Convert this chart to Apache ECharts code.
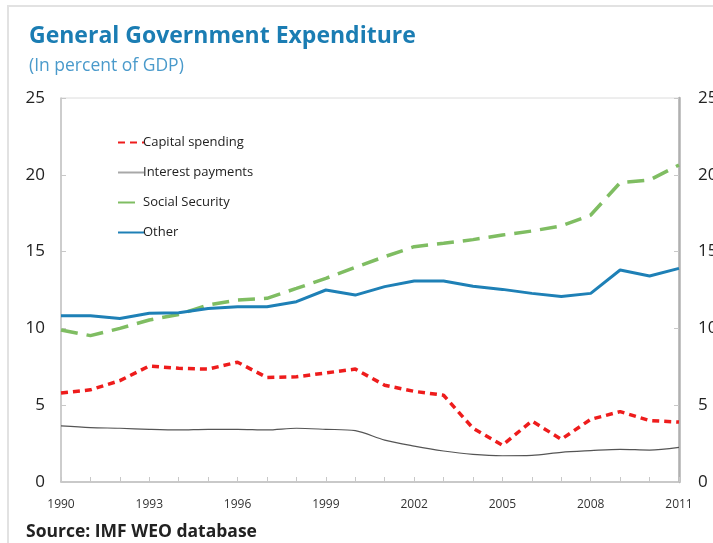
<!DOCTYPE html>
<html>
<head>
<meta charset="utf-8">
<title>General Government Expenditure</title>
<script src="https://cdn.jsdelivr.net/npm/echarts@6/dist/echarts.min.js"></script>
<style>
  html, body { margin: 0; padding: 0; background: #ffffff; }
  #chart { width: 713px; height: 543px; }
</style>
</head>
<body>
<div id="chart"></div>
<script>
// Years on the horizontal axis
const years = ['1990','1991','1992','1993','1994','1995','1996','1997','1998','1999','2000',
               '2001','2002','2003','2004','2005','2006','2007','2008','2009','2010','2011'];

// Spending categories, percent of GDP
const capitalSpending = [5.8, 6.0, 6.6, 7.55, 7.4, 7.35, 7.8, 6.8, 6.85, 7.1, 7.35,
                         6.3, 5.9, 5.65, 3.5, 2.4, 3.97, 2.78, 4.08, 4.58, 4.0, 3.9];
const interestPayments = [3.65, 3.54, 3.5, 3.43, 3.39, 3.43, 3.43, 3.39, 3.5, 3.43, 3.34,
                          2.73, 2.34, 2.02, 1.8, 1.71, 1.73, 1.93, 2.04, 2.13, 2.08, 2.26];
const socialSecurity = [9.9, 9.53, 10.0, 10.55, 10.91, 11.52, 11.85, 11.96, 12.6, 13.26, 13.98,
                        14.67, 15.32, 15.54, 15.78, 16.08, 16.34, 16.67, 17.38, 19.49, 19.66, 20.64];
const other = [10.83, 10.83, 10.65, 10.98, 11.02, 11.3, 11.41, 11.41, 11.74, 12.5, 12.17,
               12.72, 13.09, 13.09, 12.74, 12.54, 12.28, 12.07, 12.28, 13.8, 13.41, 13.91];

// Value-axis ticks
const yMin = 0, yMax = 25, yStep = 5;

const font = '"Open Sans", "Noto Sans", sans-serif';

const chart = echarts.init(document.getElementById('chart'), null, { renderer: 'canvas' });

const valueAxis = (position, lineColor, lineWidth, margin) => ({
  type: 'value',
  position: position,
  min: yMin, max: yMax, interval: yStep,
  axisLine: { show: true, lineStyle: { color: lineColor, width: lineWidth } },
  axisTick: { show: true, inside: true, length: 5, lineStyle: { color: '#c8c8c8' } },
  axisLabel: { color: '#222', fontSize: 17, fontFamily: font, margin: margin },
  splitLine: { show: false }
});

chart.setOption({
  animation: false,
  backgroundColor: '#ffffff',
  title: [
    {
      text: 'General Government Expenditure',
      left: 24, top: 20,
      textStyle: { color: '#1b7db3', fontSize: 23, fontWeight: 'bold', fontFamily: font }
    },
    {
      text: '(In percent of GDP)',
      left: 24, top: 52,
      textStyle: { color: '#4a9acb', fontSize: 17.5, fontWeight: 'normal', fontFamily: font }
    },
    {
      text: 'Source: IMF WEO database',
      left: 21, top: 518,
      textStyle: { color: '#222', fontSize: 17.5, fontWeight: 'bold', fontFamily: font }
    }
  ],
  graphic: [
    {
      type: 'rect',
      shape: { x: 8, y: 6, width: 760, height: 600 },
      style: { fill: 'none', stroke: '#e2e2e2', lineWidth: 2 },
      silent: true, z: -1
    }
  ],
  grid: {
    left: 61, right: 34, top: 98, bottom: 61,
    containLabel: false,
    outerBoundsMode: 'none',
    show: true, borderColor: '#dcdcdc', borderWidth: 1, backgroundColor: 'transparent'
  },
  legend: {
    orient: 'vertical',
    left: 112, top: 131,
    itemWidth: 26, itemHeight: 14, itemGap: 17,
    itemStyle: { opacity: 0 },
    textStyle: { color: '#222', fontSize: 13, fontFamily: font, padding: [0, 0, 0, -6] },
    data: [
      'Capital spending',
      { name: 'Interest payments', lineStyle: { color: '#a8a8a8', width: 2 } },
      'Social Security',
      'Other'
    ]
  },
  xAxis: {
    type: 'category',
    data: years,
    boundaryGap: false,
    axisLine: { lineStyle: { color: '#bdbdbd', width: 1.5 } },
    axisTick: { show: true, inside: true, length: 5, interval: 0, lineStyle: { color: '#c8c8c8' } },
    axisLabel: { interval: 2, color: '#333', fontSize: 12, fontFamily: font, margin: 17 },
    splitLine: { show: false }
  },
  yAxis: [
    valueAxis('left', '#c2c2c2', 1.5, 16),
    valueAxis('right', '#b0b0b0', 2.5, 19)
  ],
  series: [
    {
      name: 'Capital spending', type: 'line', data: capitalSpending,
      symbol: 'none', color: '#ee1c1c',
      lineStyle: { color: '#ee1c1c', width: 3.5, type: [7, 5] }
    },
    {
      name: 'Interest payments', type: 'line', data: interestPayments,
      symbol: 'none', smooth: 0.3, color: '#9a9a9a',
      lineStyle: { color: '#555', width: 1.2 }
    },
    {
      name: 'Social Security', type: 'line', data: socialSecurity,
      symbol: 'none', color: '#7fbd62',
      lineStyle: { color: '#7fbd62', width: 3.5, type: [17, 9] }
    },
    {
      name: 'Other', type: 'line', data: other,
      symbol: 'none', color: '#1e80b6',
      lineStyle: { color: '#1e80b6', width: 3 }
    }
  ]
});
</script>
</body>
</html>
